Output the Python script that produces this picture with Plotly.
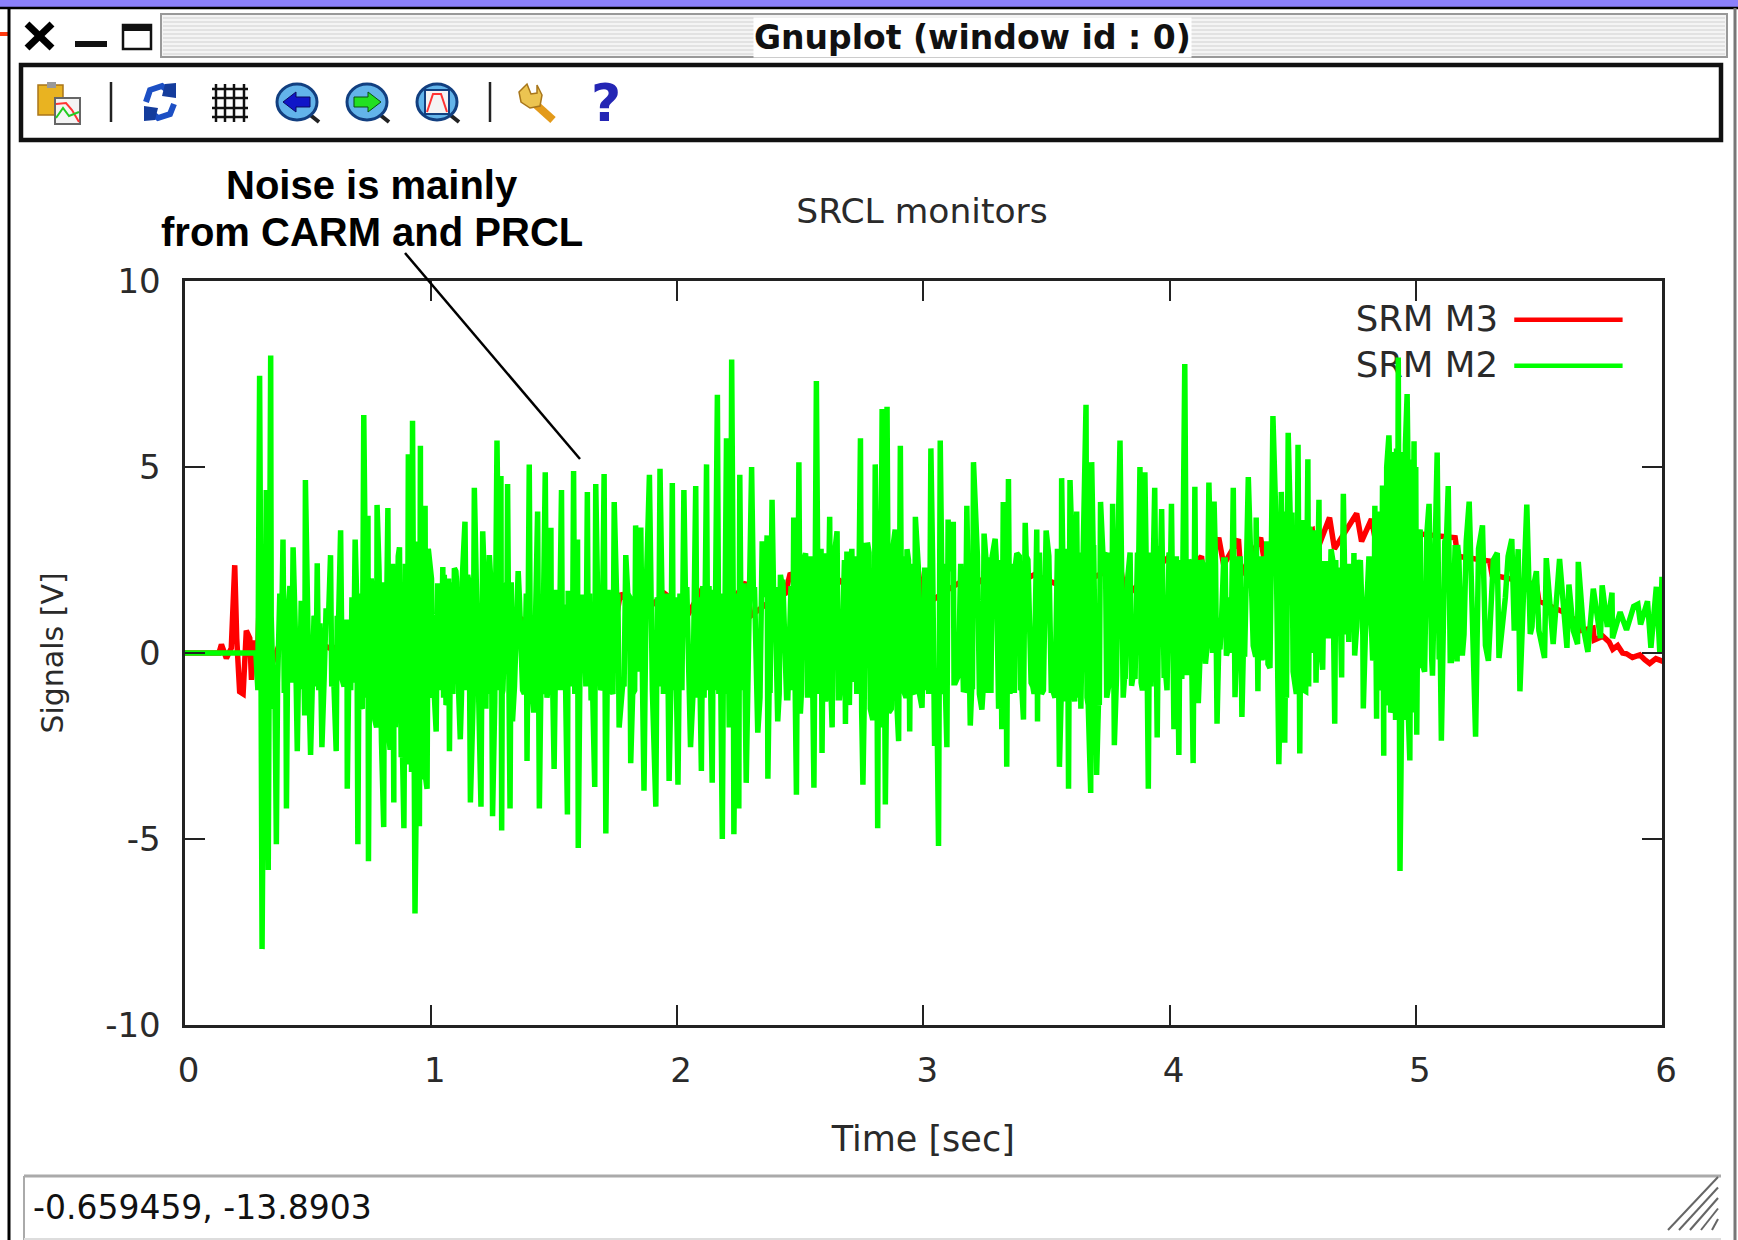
import plotly.graph_objects as go

W, H = 1738, 1240

# ---------- data (seconds, volts) ----------
m3_time_a = [-0.019, 0.14, 0.15, 0.17, 0.19, 0.204, 0.212, 0.224, 0.238, 0.251, 0.265, 0.272, 0.285, 0.296, 0.305,
             0.35, 0.4, 0.5, 0.6, 0.7, 0.8, 0.873, 0.95, 1.05, 1.15, 1.25, 1.35, 1.45, 1.5, 1.51,
             1.6, 1.7, 1.75, 1.77, 1.85, 1.95, 2.05, 2.1, 2.2, 2.28, 2.3, 2.38, 2.44, 2.46, 2.55,
             2.65, 2.75, 2.85, 2.95, 2.98, 3.0]
m3_signal_a = [0, 0, 0.23, -0.14, 0.13, 2.36, 0.4, -1.04, -1.1, 0.6, 0.4, -0.72, 0.34, -0.2, 1.7,
               -0.4, 0.5, 0.4, 0.1, 0.5, 0.2, -0.1, 0.5, 0.2, 0.8, 0.3, 1.0, 0.5, 0.4, 1.3,
               0.7, 1.4, 0.8, 1.6, 1.0, 1.6, 1.1, 1.7, 1.2, 1.9, 1.0, 1.4, 1.6, 2.15, 1.5,
               2.0, 1.5, 2.0, 1.6, 2.2, 1.25]
m3_time_b = [3.1, 3.2, 3.3, 3.45, 3.6, 3.66, 3.68, 3.8, 3.82, 3.9, 4.0, 4.05, 4.13, 4.14, 4.2,
             4.22, 4.28, 4.29, 4.37, 4.39, 4.5, 4.58, 4.59, 4.65, 4.67, 4.76, 4.78, 4.82, 4.84, 5.02,
             5.16, 5.17, 5.3, 5.31, 5.49, 5.5, 5.6, 5.66, 5.665, 5.72, 5.725, 5.76, 5.785, 5.8, 5.82,
             5.84, 5.856, 5.88, 5.91, 5.93, 5.95, 5.975, 6.012]
m3_signal_b = [1.7, 2.1, 1.6, 2.1, 1.7, 2.3, 2.0, 2.36, 1.5, 2.0, 2.6, 2.0, 2.6, 1.94, 3.1,
               2.37, 3.06, 2.1, 3.1, 2.26, 3.0, 3.3, 2.6, 3.64, 2.8, 3.75, 3.0, 3.6, 2.9, 3.2,
               3.1, 2.6, 2.47, 2.1, 1.84, 1.4, 1.1, 0.83, 0.6, 0.67, 0.35, 0.45, 0.3, 0.1, 0.2,
               0.0, -0.02, -0.12, -0.05, -0.18, -0.28, -0.15, -0.25]

# visible peaks and troughs of the green trace
m2_time_a = [-0.019, 0.29, 0.298, 0.305, 0.315, 0.325, 0.332, 0.340, 0.350, 0.362,
             0.373, 0.387, 0.400, 0.414, 0.428, 0.441, 0.458, 0.474, 0.488, 0.491,
             0.512, 0.526, 0.539, 0.558, 0.575, 0.593, 0.616, 0.634, 0.661, 0.680,
             0.693, 0.704, 0.728, 0.738, 0.745, 0.747, 0.765, 0.782, 0.809, 0.817,
             0.826, 0.850, 0.862, 0.873, 0.891, 0.900, 0.909, 0.918, 0.926, 0.936,
             0.954, 0.958, 0.968, 0.977, 0.985, 0.995]
m2_signal_a = [0, 0, -1.0, 7.45, -7.96, 1.2, 4.38, -5.83, 8.0, -1.5,
               -5.14, 1.6, 3.05, -4.18, 1.8, 2.84, -2.64, 1.4, -1.68, 4.65,
               -2.74, 1.0, 2.41, -2.53, 1.2, 2.63, -2.64, 3.30, -3.65, 1.5,
               3.05, -5.14, 6.40, -1.2, 3.69, -5.60, 1.5, 3.98, -4.68, 0.8,
               3.90, -4.02, -0.5, 2.84, -4.71, 1.8, 5.34, -3.0, 6.24, -7.0,
               -4.66, 5.57, -2.5, 3.96, -3.65, 2.36]
m2_time_b = [1.008, 1.022, 1.035, 1.049, 1.062, 1.076, 1.096, 1.108, 1.120, 1.139,
             1.161, 1.177, 1.204, 1.211, 1.224, 1.238, 1.251, 1.269, 1.280, 1.285,
             1.288, 1.300, 1.312, 1.322, 1.332, 1.355, 1.373, 1.391, 1.396, 1.400,
             1.418, 1.434, 1.441, 1.465, 1.477, 1.488, 1.501, 1.531, 1.555, 1.580,
             1.596, 1.599, 1.636, 1.651, 1.666, 1.670, 1.687, 1.704, 1.711, 1.745,
             1.765, 1.792, 1.812, 1.832, 1.842, 1.853, 1.866, 1.888, 1.914, 1.931,
             1.968, 1.981]
m2_signal_b = [-1.2, -2.11, 1.5, 2.31, -1.4, -2.64, 2.28, -0.8, -2.32, 3.53,
               -4.02, 4.44, -4.13, 3.27, -1.5, 2.63, -4.39, 5.71, -1.0, 4.76,
               -4.77, 1.0, 4.54, -4.18, -1.84, 2.2, -1.0, -2.9, 3.05, 5.07,
               -1.6, 3.8, -4.18, 4.86, -0.9, 3.37, -3.12, 4.38, -4.34, 4.89,
               3.05, -5.24, 4.33, -1.2, -3.6, 4.54, -1.0, 4.81, -4.85, 4.06,
               -2.0, 2.63, -2.96, 3.43, -0.5, 3.37, -3.70, 4.79, -4.13, 4.95,
               -3.44, 4.57]
m2_time_c = [2.004, 2.028, 2.055, 2.076, 2.099, 2.120, 2.143, 2.164, 2.184, 2.201,
             2.212, 2.222, 2.231, 2.251, 2.255, 2.281, 2.303, 2.328, 2.346, 2.366,
             2.369, 2.386, 2.409, 2.420, 2.440, 2.474, 2.485, 2.495, 2.501, 2.522,
             2.556, 2.566, 2.589, 2.596, 2.610, 2.620, 2.630, 2.650, 2.668, 2.684,
             2.690, 2.718, 2.745, 2.755, 2.765, 2.785, 2.805, 2.815, 2.833, 2.846,
             2.853, 2.870, 2.886, 2.900, 2.907, 2.920, 2.934, 2.945, 2.968, 2.995]
m2_signal_c = [-3.54, 4.38, -2.53, 4.49, -3.17, 5.07, -3.49, 6.94, -5.0, 5.77,
               -2.0, 7.89, -4.87, -4.18, 4.79, -3.49, 5.0, -2.14, 3.0, 3.16,
               -3.38, 4.12, -1.84, 2.1, -0.8, 3.64, -3.81, 5.13, -1.63, 2.68,
               -3.62, 7.31, -2.69, 2.68, -1.0, 3.66, -2.0, 3.27, -0.5, -1.91,
               2.73, -0.78, 5.77, -3.54, 2.89, -1.5, 5.07, -4.71, 6.56, -4.07,
               6.62, -1.5, 3.32, -2.37, 5.57, -1.0, 2.79, -2.11, 3.66, -1.47]
m2_time_d = [3.015, 3.031, 3.046, 3.062, 3.069, 3.096, 3.101, 3.122, 3.143, 3.163,
             3.177, 3.191, 3.204, 3.238, 3.247, 3.270, 3.292, 3.306, 3.319, 3.325,
             3.339, 3.346, 3.363, 3.380, 3.407, 3.414, 3.438, 3.461, 3.464, 3.499,
             3.526, 3.553, 3.562, 3.590, 3.596, 3.610, 3.623, 3.640, 3.661, 3.680,
             3.684, 3.704, 3.720, 3.745, 3.769, 3.776, 3.799, 3.812, 3.830, 3.846,
             3.880, 3.890, 3.900, 3.914, 3.940, 3.950, 3.968, 3.990, 4.008]
m2_signal_d = [2.0, 5.5, -2.5, -5.19, 5.71, -2.53, 3.59, 3.53, -0.6, -0.99,
               3.96, -1.95, 5.13, -1.52, 3.21, -1.0, 3.07, -1.5, -2.05, 4.06,
               -3.06, 4.68, -1.0, 2.68, -1.79, 3.5, -0.8, 3.32, -1.84, 3.29,
               -1.0, -3.06, 4.70, -3.65, 4.65, -1.0, 3.8, -1.5, 6.67, -3.76,
               5.13, -3.28, 4.06, -1.2, 4.01, -2.48, 5.71, -1.2, 2.0, -0.88,
               5.0, -1.0, 4.86, -3.65, 4.44, -2.27, 3.87, -1.0, 4.01]
m2_time_e = [4.018, 4.038, 4.062, 4.096, 4.103, 4.117, 4.146, 4.160, 4.170, 4.181,
             4.193, 4.212, 4.231, 4.245, 4.259, 4.266, 4.280, 4.294, 4.320, 4.340,
             4.352, 4.359, 4.387, 4.420, 4.444, 4.454, 4.468, 4.482, 4.502, 4.522,
             4.529, 4.553, 4.562, 4.585, 4.607, 4.622, 4.656, 4.671, 4.699, 4.706,
             4.728, 4.749, 4.752, 4.770, 4.787, 4.834, 4.841, 4.870, 4.891, 4.911,
             4.929, 4.936, 4.950, 4.965, 4.976, 4.993]
m2_signal_e = [-2.05, -2.74, 7.77, -2.96, 4.47, -1.35, -0.29, 4.58, 0.5, 4.07,
               -1.9, 1.0, -0.07, 1.5, 4.44, -1.19, 1.0, -1.72, 4.73, 0.2,
               3.64, -1.03, -0.18, 6.37, -2.99, 4.33, -2.41, 5.92, -0.5, 5.6,
               -2.7, -1.03, 5.21, 0.0, 4.12, -0.45, 2.79, -1.9, -0.66, 4.28,
               0.3, 2.69, -0.07, 1.8, -1.49, 3.96, -1.77, -2.76, 5.85, -1.0,
               7.94, -5.86, 3.0, 6.96, -2.89, 5.69]
m2_time_f = [5.004, 5.018, 5.036, 5.054, 5.068, 5.087, 5.104, 5.132, 5.150, 5.168,
             5.175, 5.196, 5.217, 5.243, 5.271, 5.295, 5.331, 5.338, 5.364, 5.390,
             5.416, 5.423, 5.451, 5.465, 5.480, 5.500, 5.523, 5.530, 5.558, 5.584,
             5.614, 5.622, 5.640, 5.657, 5.660, 5.680, 5.699, 5.721, 5.750, 5.757,
             5.778, 5.797, 5.799, 5.830, 5.856, 5.885, 5.902, 5.913, 5.941, 5.955,
             5.977, 5.991, 6.0]
m2_signal_f = [-2.2, 3.32, -0.5, 4.01, -0.61, 5.39, -2.36, 4.49, 0.5, -0.23,
               2.58, 0.5, 4.07, -2.25, 3.43, -0.21, 2.69, -0.13, 1.5, 3.06,
               2.79, -1.03, 3.99, 0.51, 1.84, 0.6, -0.13, 2.55, 0.24, 2.53,
               0.14, 1.84, 0.6, 0.24, 2.45, 0.7, 0.03, 1.73, 0.4, 1.82,
               0.7, 1.62, 0.4, 1.1, 0.62, 1.25, 1.31, 0.77, 1.39, 0.14,
               1.78, 0.03, 2.05]

# swings estimated inside the solid green band, where single peaks cannot be told apart
band_time_a = [.31, .328, .345, .367, .382, .405, .42, .435, .45, .468, .482, .50, .52, .534, .55, .567, .585, .605, .625, .648, .67, .686,
               .71, .722, .735, .75, .758, .773, .79, .80, .822, .835, .845, .856, .868, .88, .897, .905, .914, .922, .93, .942, .948, .963, .972, .98, .99]
band_signal_a = [.9, -.8, 1.1, -.7, .8, -1.0, 1.0, -.8, .6, -.9, .9, -.6, .7, -.9, .8, -.7, 1.0, -.5, .7, -.9, .9, -.8,
                 1.6, -1.5, 1.8, -2.0, 2.0, -1.8, 2.2, -2.4, 1.8, -2.6, 2.4, -2.0, 2.6, -2.8, 2.4, -3.0, 2.8, -3.2, 2.2, -3.3, 3.0, -3.4, 2.6, -3.4, 2.8]
band_time_b = [1.003, 1.015, 1.028, 1.04, 1.055, 1.068, 1.082, 1.09, 1.102, 1.114, 1.128, 1.146, 1.155, 1.168, 1.185, 1.195, 1.217, 1.23, 1.245, 1.26, 1.275, 1.293, 1.305, 1.318, 1.327, 1.34,
               1.36, 1.38, 1.398, 1.41, 1.425, 1.447, 1.458, 1.472, 1.483, 1.495, 1.51, 1.52, 1.54, 1.548, 1.565, 1.575, 1.588, 1.605, 1.62, 1.63,
               1.645, 1.658, 1.678, 1.695, 1.72, 1.733, 1.755, 1.78, 1.80, 1.82, 1.838, 1.86, 1.875, 1.90, 1.92, 1.945, 1.96, 1.975, 1.992]
band_signal_b = [2.0, -1.2, 1.8, -1.0, 2.1, -1.3, 1.9, -1.1, 2.2, -1.2, 2.0, -1.0, 1.9, -1.4, 2.0, -1.3, 2.1, -1.1, 1.8, -1.3, 2.1, -1.0, 1.8, -1.2, 1.9, -0.9,
                 1.5, -1.1, 1.7, -0.9, 1.6, -1.0, 1.4, -1.2, 1.6, -0.8, 1.7, -1.0, 1.3, -1.1, 1.6, -0.9, 1.7, -1.1, 1.5, -0.9,
                 1.6, -1.2, 1.4, -0.9, 1.7, -1.0, 1.5, -0.8, 1.6, -1.1, 1.4, -0.9, 1.7, -1.0, 1.5, -1.1, 1.6, -0.9, 1.5]
band_time_c = [2.012, 2.02, 2.04, 2.065, 2.088, 2.11, 2.13, 2.153, 2.174, 2.192, 2.206, 2.217, 2.24, 2.262, 2.272, 2.292, 2.315, 2.337, 2.356, 2.378,
               2.398, 2.415, 2.43, 2.45, 2.463, 2.48, 2.49,
               2.51, 2.53, 2.545, 2.575, 2.585, 2.603, 2.615, 2.625, 2.64, 2.66, 2.675, 2.70, 2.71, 2.73, 2.74, 2.75, 2.775, 2.795, 2.81, 2.825,
               2.84, 2.86, 2.878, 2.893, 2.913, 2.927, 2.94, 2.955, 2.975, 2.985]
band_signal_c = [1.6, -1.0, 1.7, -1.1, 1.5, -1.2, 1.8, -1.0, 1.6, -1.1, 1.7, -1.2, 1.6, -1.0, 1.8, -1.1, 1.7, -1.2, 1.5, -1.0,
                 1.7, -1.1, 1.9, -1.2, 1.8, -1.0, 1.9,
                 2.4, -1.2, 2.6, -1.1, 2.8, -1.3, 2.5, -1.0, 2.7, -1.2, 2.5, -1.4, 2.8, -1.1, 2.6, -1.6, 2.9, -1.8, 3.0, -2.0,
                 3.1, -1.6, 2.9, -1.4, 2.6, -1.2, 2.5, -1.0, 2.4, -1.1]
band_time_d = [3.006, 3.022, 3.038, 3.055, 3.08, 3.09, 3.11, 3.13, 3.152, 3.17, 3.184, 3.197, 3.215, 3.228, 3.255, 3.262, 3.28, 3.30, 3.313, 3.332,
               3.355, 3.37, 3.39, 3.40, 3.425, 3.45, 3.472, 3.488, 3.51, 3.535, 3.545, 3.575, 3.605, 3.63, 3.65, 3.67, 3.69, 3.712,
               3.73, 3.755, 3.762, 3.785, 3.805, 3.82, 3.838, 3.855, 3.87, 3.885, 3.905, 3.925, 3.958, 3.978, 3.998]
band_signal_d = [2.3, -1.1, 2.5, -0.9, 2.4, -1.0, 2.2, -0.8, 2.4, -1.0, 2.5, -0.9, 2.6, -1.1, 2.5, -1.0, 2.6, -0.9, 2.5, -1.1,
                 2.4, -1.0, 2.6, -0.9, 2.5, -1.1, 2.7, -1.0, 2.6, -1.2, 2.8, -1.3, 2.7, -1.2, 2.9, -1.4, 2.8, -1.2,
                 2.6, -0.8, 2.7, -0.6, 2.5, -0.7, 2.6, -0.5, 2.7, -0.8, 2.6, -0.9, 2.8, -0.6, 2.7]
band_time_e = [4.013, 4.028, 4.05, 4.078, 4.09, 4.11, 4.125, 4.135, 4.153, 4.165, 4.175, 4.187, 4.2, 4.22, 4.238, 4.252, 4.272, 4.287, 4.305, 4.33,
               4.345, 4.365, 4.375, 4.395, 4.408, 4.432, 4.45, 4.46, 4.475, 4.49, 4.51, 4.536, 4.545, 4.57, 4.595,
               4.635, 4.645, 4.663, 4.68, 4.69, 4.715, 4.735, 4.76, 4.775, 4.795, 4.81, 4.825,
               4.848, 4.857, 4.865, 4.875, 4.882, 4.898, 4.905, 4.918, 4.922, 4.942, 4.958, 4.97, 4.982, 4.998]
band_signal_e = [-0.8, 2.6, -0.7, 2.5, -0.6, 2.5, 0.1, 2.4, 0.2, 2.6, 0.0, 2.4, 0.2, 2.5, 0.1, 2.4, 0.0, 2.6, -0.1, 2.5,
                 0.1, 2.6, -0.2, 3.0, -0.4, 3.6, -1.0, 3.8, -1.2, 3.7, -1.1, 3.5, -1.0, 3.4, -0.8,
                 2.4, 0.4, 2.5, 0.6, 2.3, 0.5, 2.4, 0.7, 2.5, 0.4, 2.6, -0.2,
                 3.8, -1.0, 4.5, -1.4, 5.0, -1.6, 5.4, -1.8, 5.5, -1.9, 5.6, -1.7, 5.2, -1.5]
band_time_f = [5.01, 5.027, 5.045, 5.06, 5.078, 5.095, 5.118, 5.14, 5.16, 5.185, 5.205, 5.23, 5.255, 5.283, 5.315, 5.35, 5.375, 5.40, 5.44, 5.472, 5.49]
band_signal_f = [3.0, -0.3, 3.2, -0.2, 3.1, -0.1, 3.0, -0.2, 2.9, 0.0, 3.0, 0.1, 2.8, 0.2, 2.5, 0.5, 2.6, 0.6, 2.4, 0.7, 2.2]

# a second pass over the same solid band
fill_time_a = [.322, .352, .378, .395, .412, .445, .462, .478, .505, .53, .545, .58, .598, .62, .64, .66, .675, .70, .715, .745,
               .78, .812, .83, .85, .885, .92, .96]
fill_signal_a = [-.9, 1.0, -.8, .9, -1.0, .8, -.9, 1.1, -.8, .9, -1.0, .8, -.9, 1.0, -.7, .9, -1.0, 1.3, -1.4, 1.8,
                 -2.0, 1.9, -2.2, 2.2, -2.6, 2.6, -3.0]
fill_time_b = [1.012, 1.032, 1.052, 1.072, 1.088, 1.105, 1.125, 1.15, 1.172, 1.19, 1.208, 1.228, 1.248, 1.265, 1.29, 1.31, 1.33, 1.348, 1.368, 1.388,
               1.405, 1.43, 1.452, 1.478, 1.49, 1.515, 1.535, 1.558, 1.585, 1.61, 1.64, 1.668, 1.69, 1.715, 1.74, 1.76, 1.785, 1.808, 1.828, 1.85,
               1.87, 1.895, 1.925, 1.955, 1.985]
fill_signal_b = [-1.0, 1.8, -1.2, 2.0, -1.0, 1.9, -1.1, 2.1, -1.3, 1.9, -1.2, 2.0, -1.0, 1.8, -1.1, 1.9, -1.0, 1.5, -0.9, 1.6,
                 -1.0, 1.5, -1.1, 1.6, -0.9, 1.4, -1.0, 1.6, -1.1, 1.5, -0.9, 1.6, -1.0, 1.4, -1.1, 1.6, -0.9, 1.5, -1.0, 1.6,
                 -1.1, 1.5, -0.9, 1.6, -1.0]
fill_time_c = [2.008, 2.034, 2.05, 2.07, 2.082, 2.105, 2.125, 2.148, 2.17, 2.19, 2.215, 2.228, 2.245, 2.268, 2.287, 2.31, 2.332, 2.35, 2.374, 2.392,
               2.404, 2.425, 2.445, 2.458, 2.47, 2.492, 2.505, 2.526, 2.55, 2.57, 2.6, 2.635, 2.655, 2.68, 2.695, 2.725, 2.76, 2.78, 2.80, 2.82,
               2.85, 2.875, 2.89, 2.91, 2.93, 2.95, 2.965, 2.98]
fill_signal_c = [-1.0, 1.7, -1.1, 1.6, -1.2, 1.8, -1.0, 1.7, -1.1, 1.6, -1.2, 1.7, -1.0, 1.8, -1.1, 1.7, -1.2, 1.8, -1.0, 1.7,
                 -1.1, 1.9, -1.2, 1.8, -1.0, 1.9, -1.1, 2.2, -1.2, 2.3, -1.1, 2.4, -1.2, 2.5, -1.0, 2.6, -1.5, 2.7, -1.6, 2.8,
                 -1.5, 2.7, -1.3, 2.5, -1.2, 2.4, -1.1, 2.3]
fill_time_d = [3.01, 3.028, 3.05, 3.075, 3.085, 3.105, 3.125, 3.148, 3.168, 3.18, 3.2, 3.22, 3.242, 3.258, 3.275, 3.296, 3.31, 3.335, 3.352, 3.375,
               3.395, 3.418, 3.445, 3.468, 3.48, 3.505, 3.52, 3.54, 3.56, 3.585, 3.615, 3.635, 3.665, 3.692, 3.715, 3.74, 3.765, 3.79, 3.818, 3.84,
               3.86, 3.875, 3.895, 3.92, 3.945, 3.965, 3.985]
fill_signal_d = [-1.0, 2.4, -0.9, 2.3, -1.1, 2.4, -0.8, 2.3, -1.0, 2.5, -0.9, 2.6, -1.1, 2.5, -1.0, 2.6, -0.9, 2.5, -1.1, 2.4,
                 -1.0, 2.6, -0.9, 2.5, -1.1, 2.7, -1.0, 2.6, -1.2, 2.8, -1.3, 2.7, -1.2, 2.9, -1.4, 2.7, -0.8, 2.6, -0.6, 2.7,
                 -0.7, 2.5, -0.8, 2.7, -0.9, 2.8, -0.6]
fill_time_e = [4.005, 4.022, 4.044, 4.07, 4.085, 4.108, 4.13, 4.15, 4.178, 4.205, 4.226, 4.25, 4.275, 4.3, 4.325, 4.35, 4.38, 4.40, 4.415, 4.438,
               4.456, 4.47, 4.497, 4.515, 4.54, 4.565, 4.59, 4.61, 4.628, 4.65, 4.675, 4.7, 4.72, 4.745, 4.765, 4.785, 4.805, 4.83, 4.845, 4.86,
               4.87, 4.88, 4.895, 4.902, 4.915, 4.925, 4.945, 4.955, 4.968, 4.985, 5.0, 5.022, 5.04, 5.065, 5.082, 5.1, 5.125, 5.145, 5.17, 5.19]
fill_signal_e = [2.6, -0.7, 2.5, -0.6, 2.4, 0.1, 2.5, 0.2, 2.4, 0.1, 2.5, 0.0, 2.6, 0.1, 2.5, -0.1, 2.6, -0.3, 3.2, -0.9,
                 3.6, -1.0, 3.7, -1.1, 3.5, -0.9, 3.3, 0.4, 2.4, 0.6, 2.5, 0.5, 2.4, 0.6, 2.5, 0.5, 2.6, 0.0, 3.5, -0.8,
                 4.2, -1.2, 4.8, -1.5, 5.2, -1.7, 5.4, -1.8, 5.3, -1.6, 5.0, -0.4, 3.1, -0.2, 3.0, -0.1, 3.1, -0.2, 2.9, 0.0]

m3_time = m3_time_a + m3_time_b
m3_signal = m3_signal_a + m3_signal_b
m2_pairs = sorted(
    list(zip(m2_time_a, m2_signal_a)) + list(zip(m2_time_b, m2_signal_b)) + list(zip(m2_time_c, m2_signal_c))
    + list(zip(m2_time_d, m2_signal_d)) + list(zip(m2_time_e, m2_signal_e)) + list(zip(m2_time_f, m2_signal_f))
    + list(zip(band_time_a, band_signal_a)) + list(zip(band_time_b, band_signal_b)) + list(zip(band_time_c, band_signal_c))
    + list(zip(band_time_d, band_signal_d)) + list(zip(band_time_e, band_signal_e)) + list(zip(band_time_f, band_signal_f))
    + list(zip(fill_time_a, fill_signal_a)) + list(zip(fill_time_b, fill_signal_b)) + list(zip(fill_time_c, fill_signal_c))
    + list(zip(fill_time_d, fill_signal_d)) + list(zip(fill_time_e, fill_signal_e)))
m2_time = [p[0] for p in m2_pairs]
m2_signal = [p[1] for p in m2_pairs]

x_ticks = [0, 1, 2, 3, 4, 5, 6]
y_ticks = [-10, -5, 0, 5, 10]
series_names = ["SRM M3", "SRM M2"]

# ---------- page-pixel helpers for the window around the plot ----------
def px(x): return x / W
def py(y): return 1 - y / H

shapes = []
def rect(x0, y0, x1, y1, fill=None, line=None, lw=0, layer="above"):
    shapes.append(dict(type="rect", xref="paper", yref="paper", x0=px(x0), y0=py(y0), x1=px(x1), y1=py(y1),
                       fillcolor=fill, line=dict(color=line, width=lw if line else 0), layer=layer))
def seg(x0, y0, x1, y1, color="#000", lw=2, layer="above"):
    shapes.append(dict(type="line", xref="paper", yref="paper", x0=px(x0), y0=py(y0), x1=px(x1), y1=py(y1),
                       line=dict(color=color, width=lw), layer=layer))
def oval(x0, y0, x1, y1, fill=None, line=None, lw=0):
    shapes.append(dict(type="circle", xref="paper", yref="paper", x0=px(x0), y0=py(y0), x1=px(x1), y1=py(y1),
                       fillcolor=fill, line=dict(color=line, width=lw if line else 0), layer="above"))
def poly(points, fill=None, line=None, lw=0, close=True):
    d = "M " + " L ".join(f"{px(a):.5f},{py(b):.5f}" for a, b in points) + (" Z" if close else "")
    shapes.append(dict(type="path", xref="paper", yref="paper", path=d, fillcolor=fill,
                       line=dict(color=line, width=lw if line else 0), layer="above"))

# desktop + window frame
rect(0, 0, W, 8, fill="#8b80fb", layer="below")
rect(0, 32, 8, 36, fill="#ff3a10", layer="below")
seg(9, 8, 9, H, lw=3, layer="below")
seg(0, 8, W, 8, lw=2.5, layer="below")
seg(1735, 8, 1735, H, color="#777", lw=3, layer="below")

# window buttons
seg(27, 24, 52, 48, lw=7); seg(52, 24, 27, 48, lw=7)
rect(75, 41, 107, 47, fill="#111")
rect(123, 25, 151, 49, fill="#fff", line="#111", lw=2.5)
rect(123, 25, 151, 31, fill="#111")

# striped title bar
rect(161, 14, 1727, 57, fill="#f4f4f4", line="#999", lw=2, layer="below")
for yy in range(18, 55, 4):
    seg(163, yy, 1725, yy, color="#dcdcdc", lw=1.5, layer="below")

# toolbar frame
rect(21, 65, 1721, 140, fill="#fff", line="#111", lw=4.5, layer="below")
seg(111, 82, 111, 122, color="#222", lw=2.5)
seg(490, 82, 490, 122, color="#222", lw=2.5)

# clipboard icon
rect(38, 85, 63, 115, fill="#e9b321", line="#a9761a", lw=1.5)
rect(47, 82, 56, 88, fill="#999")
rect(55, 98, 80, 124, fill="#f4f4f4", line="#666", lw=2)
poly([(56, 104), (66, 103), (72, 110), (79, 122)], line="#f33", lw=2, close=False)
poly([(56, 118), (63, 108), (69, 116), (79, 112)], line="#2c2", lw=2, close=False)

# refresh icon
poly([(146, 102), (150, 90), (162, 86), (170, 92)], line="#1c4fc4", lw=6, close=False)
poly([(165, 84), (176, 83), (176, 98), (162, 96)], fill="#143c9c")
poly([(174, 104), (170, 114), (158, 118), (150, 112)], line="#1c4fc4", lw=6, close=False)
poly([(155, 120), (144, 121), (144, 106), (158, 108)], fill="#143c9c")

# grid icon
for xx in (216, 225, 234, 244):
    seg(xx, 84, xx, 122, color="#111", lw=2.5)
for yy in (89, 98, 108, 117):
    seg(212, yy, 248, yy, color="#111", lw=2.5)

# three magnifier icons
for cx in (297, 367, 437):
    seg(cx + 12, 114, cx + 22, 122, color="#222", lw=4)
    oval(cx - 20, 84, cx + 20, 120, fill="#63b4ea", line="#123f80", lw=3)
poly([(283, 102), (296, 92), (296, 97), (310, 97), (310, 107), (296, 107), (296, 112)], fill="#1016c8", line="#0a0a60", lw=1)
poly([(381, 102), (368, 92), (368, 97), (354, 97), (354, 107), (368, 107), (368, 112)], fill="#22e022", line="#0a5010", lw=1)
rect(425, 90, 449, 114, fill="#f4f4f4", line="#123f80", lw=2)
poly([(427, 112), (433, 94), (441, 94), (447, 112)], line="#f33", lw=2, close=False)

# wrench icon
seg(533, 102, 553, 120, color="#e39a1a", lw=8)
poly([(519, 92), (527, 84), (531, 94), (537, 93), (537, 85), (542, 95), (540, 106), (530, 108), (521, 102)],
     fill="#ecc451", line="#a8761a", lw=1.5)

# status bar and resize grip
seg(24, 1176, 1721, 1176, color="#aaa", lw=3, layer="below")
seg(24, 1176, 24, H, color="#aaa", lw=2, layer="below")
seg(24, H - 1, 1721, H - 1, color="#ddd", lw=2, layer="below")
for k in range(5):
    seg(1668 + 11 * k, 1230, 1718, 1177 + 10.5 * k, color="#666", lw=2, layer="below")

# call-out line
seg(405, 253, 580, 459, color="#000", lw=2.5)

annotations = [
    dict(text="<b>Gnuplot (window id : 0)</b>", x=px(973), y=py(38), showarrow=False, bgcolor="#ffffff", borderpad=0,
         font=dict(family="DejaVu Sans", size=33, color="#111"), xref="paper", yref="paper", xanchor="center", yanchor="middle"),
    dict(text="<b>?</b>", x=px(606), y=py(103), showarrow=False, font=dict(family="DejaVu Sans", size=52, color="#2426b4"),
         xref="paper", yref="paper", xanchor="center", yanchor="middle"),
    dict(text="<b>Noise is mainly</b>", x=px(372), y=py(185), showarrow=False,
         font=dict(family="Liberation Sans", size=40, color="#000"), xref="paper", yref="paper", xanchor="center", yanchor="middle"),
    dict(text="<b>from CARM and PRCL</b>", x=px(372), y=py(232), showarrow=False,
         font=dict(family="Liberation Sans", size=40, color="#000"), xref="paper", yref="paper", xanchor="center", yanchor="middle"),
    dict(text="-0.659459, -13.8903", x=px(31), y=py(1207), showarrow=False,
         font=dict(family="DejaVu Sans", size=33, color="#111"), xref="paper", yref="paper", xanchor="left", yanchor="middle"),
]

font_color = "#2a2a2a"
fig = go.Figure()
fig.add_trace(go.Scatter(x=m3_time, y=m3_signal, mode="lines", name=series_names[0], showlegend=False,
                         cliponaxis=False, line=dict(color="#ff0000", width=5.5)))
# key drawn under the green trace, text to the left of its sample line as in the original
for label, level, colour in ((series_names[0], 8.96, "#ff0000"), (series_names[1], 7.72, "#00ff00")):
    fig.add_trace(go.Scatter(x=[5.334], y=[level - 0.07], mode="text", text=[label], textposition="middle left",
                             textfont=dict(family="DejaVu Sans", size=35.5, color=font_color), showlegend=False, hoverinfo="skip"))
    fig.add_trace(go.Scatter(x=[5.40, 5.84], y=[level, level], mode="lines", showlegend=False, hoverinfo="skip",
                             line=dict(color=colour, width=4.5)))
fig.add_trace(go.Scatter(x=m2_time, y=m2_signal, mode="lines", name=series_names[1], showlegend=False,
                         cliponaxis=False, line=dict(color="#00ff00", width=5.5)))

axis_common = dict(showgrid=False, zeroline=False, showline=True, linecolor="#222", linewidth=3, mirror="allticks",
                   ticks="inside", ticklen=20, tickwidth=2, tickcolor="#222",
                   tickfont=dict(family="DejaVu Sans", size=34, color=font_color), automargin=False)
fig.update_layout(
    width=W, height=H, paper_bgcolor="#ffffff", plot_bgcolor="rgba(0,0,0,0)",
    margin=dict(l=0, r=0, t=0, b=0), showlegend=False,
    title=dict(text="SRCL monitors", x=px(922), y=py(211), xanchor="center", yanchor="middle", xref="paper", yref="paper",
               font=dict(family="DejaVu Sans", size=34.5, color=font_color)),
    xaxis=dict(domain=[px(184.5), px(1662)], range=[0, 6], tickvals=x_ticks, ticktext=[str(v) for v in x_ticks],
               title=dict(text="Time [sec]", standoff=38, font=dict(family="DejaVu Sans", size=35, color=font_color)),
               ticklabelstandoff=13, ticklabelshift=4, **axis_common),
    yaxis=dict(domain=[py(1025), py(281)], range=[-10, 10], tickvals=y_ticks, ticktext=[str(v) for v in y_ticks],
               title=dict(text="Signals [V]", standoff=33, font=dict(family="DejaVu Sans", size=30, color=font_color)),
               ticklabelstandoff=14, **axis_common),
    shapes=shapes, annotations=annotations,
)
fig.write_html("out.html", config={"displayModeBar": False},
               post_script="document.body.style.margin='0';document.body.style.overflow='hidden';")
